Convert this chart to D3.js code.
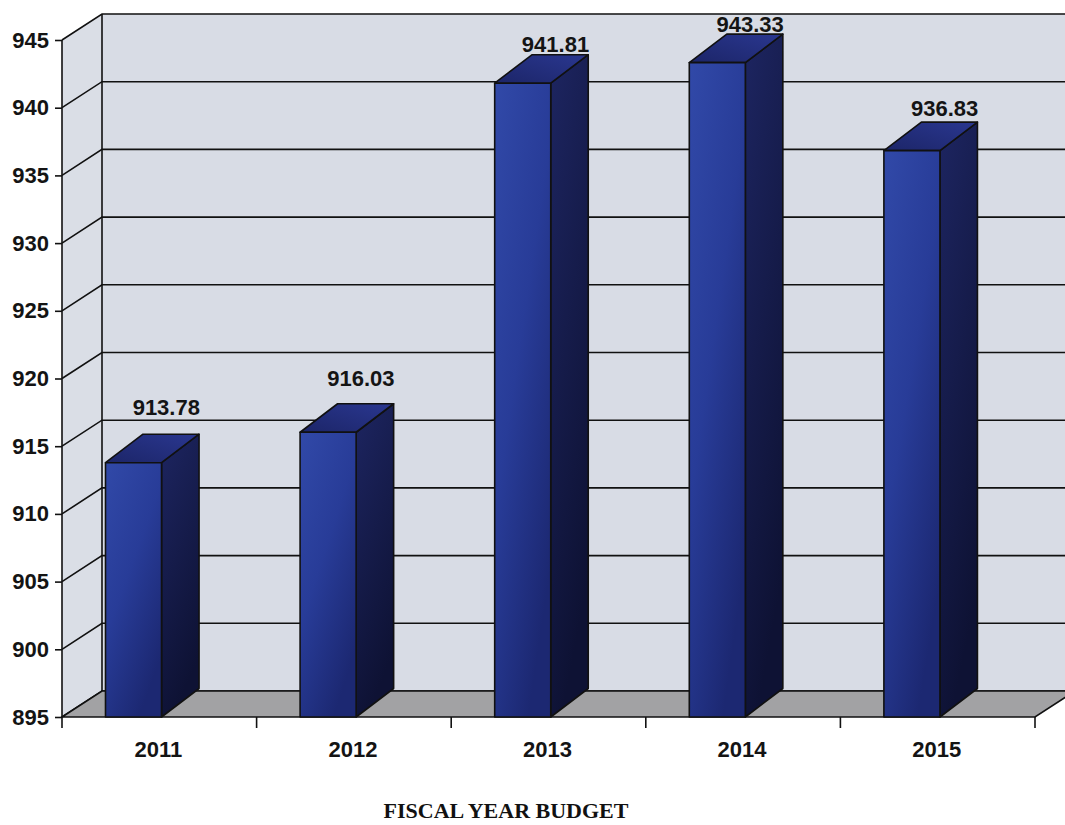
<!DOCTYPE html>
<html>
<head>
<meta charset="utf-8">
<script src="https://cdn.jsdelivr.net/npm/d3@7"></script>
<style>
  html, body { margin: 0; padding: 0; background: #ffffff; }
  svg { display: block; }
</style>
</head>
<body>
<svg id="chart" width="1065" height="825"></svg>
<script>
// Fiscal year budget values
const years = ["2011", "2012", "2013", "2014", "2015"];
const budget = [913.78, 916.03, 941.81, 943.33, 936.83];
const valueTicks = [895, 900, 905, 910, 915, 920, 925, 930, 935, 940, 945];
const axisTitle = "FISCAL YEAR BUDGET";

const svg = d3.select("#chart");

// Oblique 3D projection offsets
const wallDx = 40, wallDy = -26;   // depth of the walls / floor
const barDx = 37.5, barDy = -28.5; // depth of each column

const y = d3.scaleLinear().domain([895, 945]).range([717, 40]);
// data labels sit on a slightly receding plane
const yLabel = d3.scaleLinear().domain([895, 945]).range([658, 10.5]);
const x = d3.scaleBand().domain(years).range([62, 1035]).padding(0);

const x0 = x.range()[0], x1 = x.range()[1];
const yBase = y(895), yTop = y(945);

const defs = svg.append("defs");
const gFront = defs.append("linearGradient").attr("id", "front")
  .attr("x1", "0").attr("y1", "0").attr("x2", "0.6").attr("y2", "1");
gFront.append("stop").attr("offset", "0").attr("stop-color", "#3149a8");
gFront.append("stop").attr("offset", "0.5").attr("stop-color", "#283c98");
gFront.append("stop").attr("offset", "1").attr("stop-color", "#1c2872");
const gSide = defs.append("linearGradient").attr("id", "side")
  .attr("x1", "0").attr("y1", "0").attr("x2", "0.3").attr("y2", "1");
gSide.append("stop").attr("offset", "0").attr("stop-color", "#1d2561");
gSide.append("stop").attr("offset", "1").attr("stop-color", "#0e1234");
const gTop = defs.append("linearGradient").attr("id", "top")
  .attr("x1", "0").attr("y1", "1").attr("x2", "1").attr("y2", "0");
gTop.append("stop").attr("offset", "0").attr("stop-color", "#1c2568");
gTop.append("stop").attr("offset", "1").attr("stop-color", "#2a3790");

const line = d3.line();
const stroke = "#111";

// Side wall
svg.append("path")
  .attr("d", line([[x0, yBase], [x0 + wallDx, yBase + wallDy], [x0 + wallDx, yTop + wallDy], [x0, yTop]]) + "Z")
  .attr("fill", "#dadee6").attr("stroke", "none");
// Back wall
svg.append("rect")
  .attr("x", x0 + wallDx).attr("y", yTop + wallDy)
  .attr("width", x1 - x0 + 10).attr("height", yBase - yTop)
  .attr("fill", "#d8dce5");

// Gridlines on the side and back walls
const grid = svg.append("g").attr("stroke", stroke).attr("stroke-width", 1.6).attr("fill", "none");
valueTicks.forEach(v => {
  grid.append("path").attr("d", line([[x0, y(v)], [x0 + wallDx, y(v) + wallDy], [x1 + wallDx + 20, y(v) + wallDy]]));
});
grid.append("path").attr("d", line([[x0 + wallDx, yBase + wallDy], [x0 + wallDx, yTop + wallDy]]));

// Floor
svg.append("path")
  .attr("d", line([[x0, yBase], [x1, yBase], [x1 + wallDx, yBase + wallDy], [x0 + wallDx, yBase + wallDy]]) + "Z")
  .attr("fill", "#a2a2a4").attr("stroke", stroke).attr("stroke-width", 1.6);

// Value axis line
svg.append("path").attr("d", line([[x0, yBase], [x0, yTop]]))
  .attr("stroke", stroke).attr("stroke-width", 1.6);

// Value axis ticks and labels
const yAxis = d3.axisLeft(y).tickValues(valueTicks).tickSize(7).tickPadding(6).tickFormat(d3.format("d"));
const gy = svg.append("g").attr("transform", `translate(${x0},0)`).call(yAxis);
gy.select(".domain").remove();
gy.selectAll(".tick line").attr("stroke", stroke).attr("stroke-width", 1.6);
gy.selectAll(".tick text")
  .attr("fill", "#141414")
  .style("font-family", "'Liberation Sans', Arial, sans-serif")
  .style("font-weight", "bold").style("font-size", "22px");

// Category axis ticks at band boundaries
const bounds = years.map(c => x(c)).concat([x1]);
svg.append("g").selectAll("line").data(bounds).join("line")
  .attr("x1", d => d).attr("x2", d => d)
  .attr("y1", yBase).attr("y2", yBase + 11)
  .attr("stroke", stroke).attr("stroke-width", 1.6);

svg.append("g").selectAll("text").data(years).join("text")
  .attr("x", d => x(d) + x.bandwidth() / 2 - 1)
  .attr("y", 757)
  .attr("text-anchor", "middle")
  .attr("fill", "#141414")
  .style("font-family", "'Liberation Sans', Arial, sans-serif")
  .style("font-weight", "bold").style("font-size", "22px")
  .text(d => d);

// Columns
const barOffset = x.bandwidth() * 0.2235;
const barW = x.bandwidth() * 0.288;
const bars = svg.append("g").attr("stroke", stroke).attr("stroke-width", 1.6).attr("stroke-linejoin", "round");
years.forEach((c, i) => {
  const bx = x(c) + barOffset;
  const by = y(budget[i]);
  const g = bars.append("g");
  g.append("path")
    .attr("d", line([[bx + barW, yBase], [bx + barW + barDx, yBase + barDy], [bx + barW + barDx, by + barDy], [bx + barW, by]]) + "Z")
    .attr("fill", "url(#side)");
  g.append("path")
    .attr("d", line([[bx, by], [bx + barW, by], [bx + barW + barDx, by + barDy], [bx + barDx, by + barDy]]) + "Z")
    .attr("fill", "url(#top)");
  g.append("rect")
    .attr("x", bx).attr("y", by).attr("width", barW).attr("height", yBase - by)
    .attr("fill", "url(#front)");
});

// Data labels
svg.append("g").selectAll("text").data(budget).join("text")
  .attr("x", (d, i) => x(years[i]) + x.bandwidth() / 2 + 7)
  .attr("y", d => yLabel(d))
  .attr("text-anchor", "middle")
  .attr("fill", "#141414")
  .style("font-family", "'Liberation Sans', Arial, sans-serif")
  .style("font-weight", "bold").style("font-size", "22px")
  .text(d => d.toFixed(2));

// Axis title
svg.append("text")
  .attr("x", 506).attr("y", 818)
  .attr("text-anchor", "middle")
  .attr("fill", "#111")
  .style("font-family", "'Liberation Serif', 'Times New Roman', serif")
  .style("font-weight", "bold").style("font-size", "22px")
  .text(axisTitle);
</script>
</body>
</html>
